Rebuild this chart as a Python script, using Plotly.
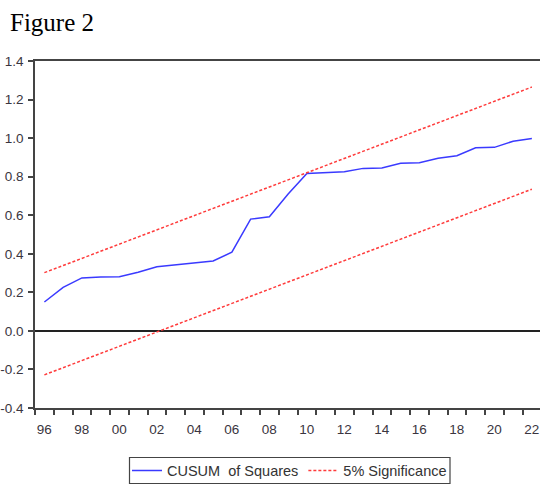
import plotly.graph_objects as go

years = list(range(1996, 2023))
cusum_sq = [0.15, 0.226, 0.275, 0.28, 0.281, 0.304, 0.333, 0.342, 0.354, 0.363,
            0.408, 0.58, 0.592, 0.71, 0.817, 0.82, 0.825, 0.843, 0.845, 0.869,
            0.872, 0.895, 0.909, 0.95, 0.952, 0.984, 0.998]
upper_5 = [0.302, 0.339, 0.376, 0.413, 0.450, 0.487, 0.524, 0.561, 0.598, 0.635,
           0.672, 0.709, 0.746, 0.784, 0.821, 0.858, 0.895, 0.932, 0.969, 1.006,
           1.043, 1.080, 1.117, 1.154, 1.191, 1.228, 1.265]
lower_5 = [-0.228, -0.191, -0.154, -0.117, -0.080, -0.043, -0.006, 0.031, 0.068, 0.105,
           0.142, 0.179, 0.216, 0.254, 0.291, 0.328, 0.365, 0.402, 0.439, 0.476,
           0.513, 0.550, 0.587, 0.624, 0.661, 0.698, 0.735]
label_years = list(range(1996, 2023, 2))
label_text = [f"{y % 100:02d}" for y in label_years]
y_ticks = [-0.4, -0.2, 0.0, 0.2, 0.4, 0.6, 0.8, 1.0, 1.2, 1.4]
y_text = ["-0.4", "-0.2", "0.0", "0.2", "0.4", "0.6", "0.8", "1.0", "1.2", "1.4"]

W, H = 540, 487
L, R, T, B = 35, 0, 61, 79
pw, ph = W - L - R, H - T - B


def px_x(x):
    return (x - L) / pw


def px_y(y):
    return (H - B - y) / ph


fig = go.Figure()
fig.add_trace(go.Scatter(x=years, y=cusum_sq, mode="lines",
                         name="CUSUM\u00a0\u00a0of Squares",
                         line=dict(color="#3a3aff", width=1.5)))
fig.add_trace(go.Scatter(x=years, y=upper_5, mode="lines", name="5% Significance",
                         line=dict(color="#ff3b3b", width=1.5, dash="3px,2px")))
fig.add_trace(go.Scatter(x=years, y=lower_5, mode="lines", name="5% Significance",
                         showlegend=False,
                         line=dict(color="#ff3b3b", width=1.5, dash="3px,2px")))

axis_font = dict(family="Liberation Sans, Arial, sans-serif", size=13.5, color="#3a3540")

fig.update_layout(
    width=W, height=H,
    margin=dict(l=L, r=R, t=T, b=B, autoexpand=False),
    paper_bgcolor="white", plot_bgcolor="white",
    font=axis_font,
    showlegend=True,
    legend=dict(orientation="h", x=px_x(289.5), xanchor="center",
                y=px_y(470.5), yanchor="middle",
                borderwidth=0, bgcolor="rgba(0,0,0,0)",
                font=dict(family="Liberation Sans, Arial, sans-serif", size=14.5, color="#333"),
                itemwidth=30, tracegroupgap=0),
    shapes=[dict(type="rect", xref="paper", yref="paper",
                 x0=px_x(129.5), x1=px_x(450), y0=px_y(457.5), y1=px_y(483.5),
                 line=dict(color="#444", width=1.2), fillcolor="rgba(0,0,0,0)")],
    xaxis=dict(range=[1995.5, 1995.5 + pw / 18.75], automargin=False,
               tickmode="array", tickvals=label_years, ticktext=label_text,
               ticks="", showgrid=False, zeroline=False,
               showline=True, linecolor="#444", linewidth=1.5, mirror=True,
               tickfont=axis_font, ticklabelstandoff=8,
               minor=dict(ticks="outside", tick0=1995.5, dtick=1, ticklen=5,
                          tickcolor="#444", tickwidth=1.5, showgrid=False)),
    yaxis=dict(range=[-0.4, 1.4], automargin=False, tickmode="array",
               tickvals=y_ticks, ticktext=y_text,
               ticks="outside", ticklen=5, tickcolor="#444", tickwidth=1.5,
               showgrid=False, zeroline=True, zerolinecolor="#222", zerolinewidth=1.5,
               showline=True, linecolor="#444", linewidth=1.5,
               tickfont=axis_font, ticklabelstandoff=2),
    annotations=[dict(text="Figure 2", xref="paper", yref="paper",
                      x=px_x(8), xanchor="left",
                      y=px_y(22), yanchor="middle", showarrow=False,
                      font=dict(family="Liberation Serif, Times New Roman, serif",
                                size=25, color="black"))],
)

fig.write_html("out.html", config={"displayModeBar": False},
               post_script="document.body.style.margin='0';document.body.style.overflow='hidden';")
